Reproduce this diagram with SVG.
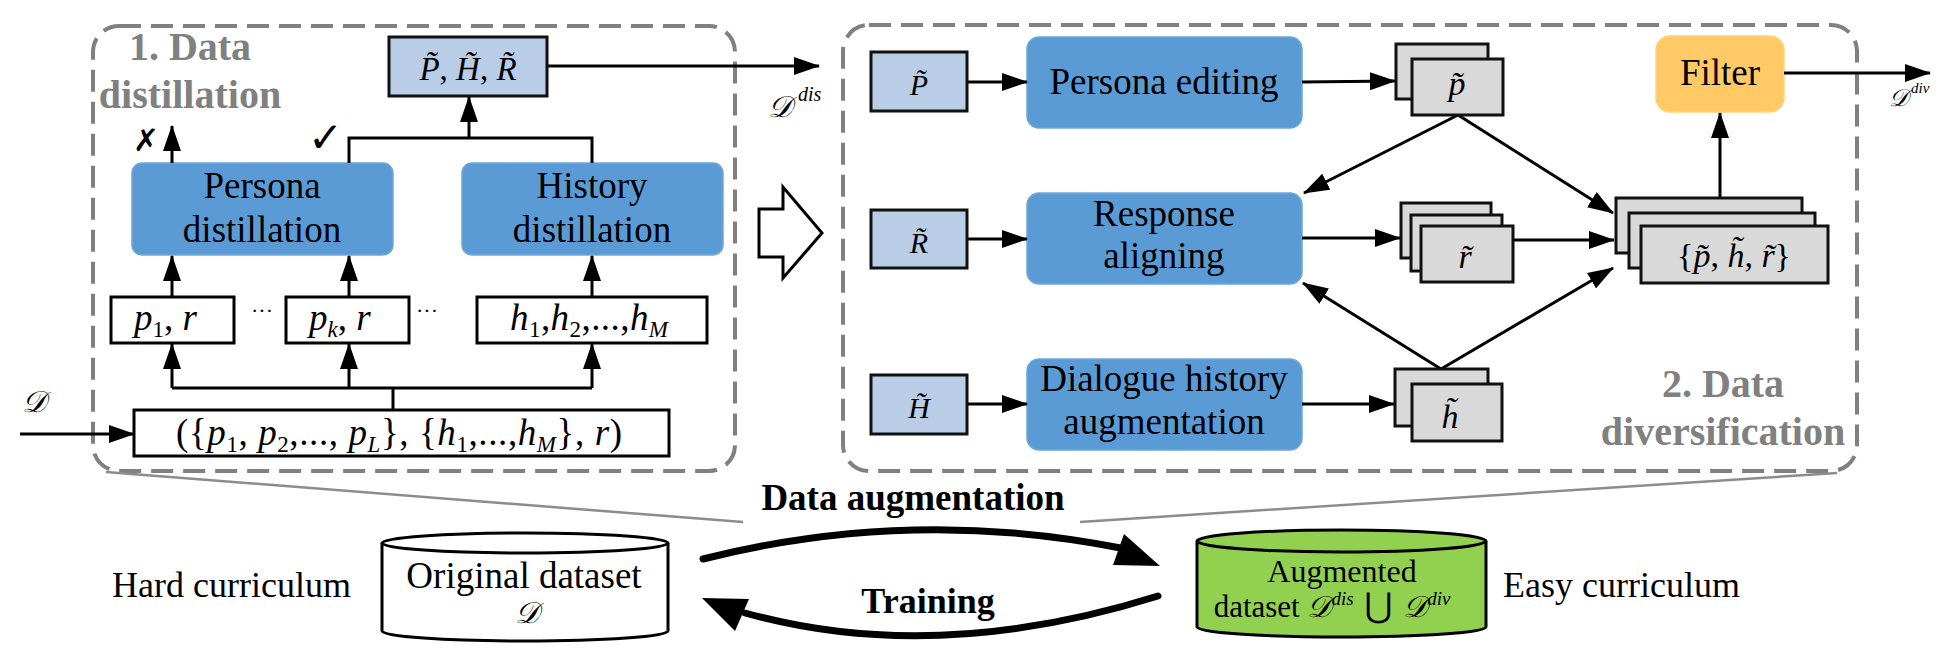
<svg xmlns="http://www.w3.org/2000/svg" width="1952" height="666" viewBox="0 0 1952 666">
<defs>
<style>
.vx-i{font-style:italic}
.vx-sec{font-weight:bold;fill:#808080;font-size:40px}
.vx-dash{fill:none;stroke:#808080;stroke-width:4;stroke-dasharray:22 10}
.vx-blue{fill:#5B9BD5;stroke:#6FA6DA;stroke-width:1.5}
.vx-lb{fill:#B9CDE6;stroke:#111;stroke-width:3}
.vx-gr{fill:#D9D9D9;stroke:#111;stroke-width:3}
.vx-wb{fill:#fff;stroke:#000;stroke-width:3}
.vx-ln{fill:none;stroke:#000;stroke-width:3}
.vx-ar{fill:none;stroke:#000;stroke-width:3;marker-end:url(#ah)}
</style>
<marker id="ah" markerUnits="userSpaceOnUse" markerWidth="26" markerHeight="18" refX="25" refY="9" orient="auto">
<path d="M0,0 L26,9 L0,18 Z" fill="#000"/>
</marker>
</defs>

<g id="node-persona-distillation">
<rect class="vx-blue" x="132" y="163" width="261" height="92" rx="10"/>
<text font-family="Times New Roman" x="262" y="198" font-size="37" text-anchor="middle">Persona</text>
<text font-family="Times New Roman" x="262" y="242" font-size="37" text-anchor="middle">distillation</text>
</g>
<g id="node-history-distillation">
<rect class="vx-blue" x="462" y="163" width="261" height="92" rx="10"/>
<text font-family="Times New Roman" x="592" y="198" font-size="37" text-anchor="middle">History</text>
<text font-family="Times New Roman" x="592" y="242" font-size="37" text-anchor="middle">distillation</text>
</g>
<g id="node-persona-editing">
<rect class="vx-blue" x="1027" y="37" width="275" height="91" rx="12"/>
<text font-family="Times New Roman" x="1164" y="94" font-size="37" text-anchor="middle">Persona editing</text>
</g>
<g id="node-response-aligning">
<rect class="vx-blue" x="1027" y="193" width="275" height="91" rx="12"/>
<text font-family="Times New Roman" x="1164" y="226" font-size="37" text-anchor="middle">Response</text>
<text font-family="Times New Roman" x="1164" y="268" font-size="37" text-anchor="middle">aligning</text>
</g>
<g id="node-dialogue-history">
<rect class="vx-blue" x="1027" y="359" width="275" height="91" rx="12"/>
<text font-family="Times New Roman" x="1164" y="391" font-size="37" text-anchor="middle">Dialogue history</text>
<text font-family="Times New Roman" x="1164" y="434" font-size="37" text-anchor="middle">augmentation</text>
</g>
<g id="node-filter">
<rect x="1656" y="36" width="128" height="76" rx="14" fill="#FFCA66" stroke="#FFD37F" stroke-width="1.5"/>
<text font-family="Times New Roman" x="1720" y="85" font-size="37" text-anchor="middle">Filter</text>
</g>

<g id="frames">
<rect class="vx-dash" x="93" y="26" width="642" height="445" rx="26"/>
<rect class="vx-dash" x="843" y="25" width="1014" height="446" rx="26"/>
<text font-family="Liberation Serif" class="vx-sec" x="190" y="60" text-anchor="middle">1. Data</text>
<text font-family="Liberation Serif" class="vx-sec" x="190" y="108" text-anchor="middle">distillation</text>
<text font-family="Liberation Serif" class="vx-sec" x="1723" y="397" text-anchor="middle">2. Data</text>
<text font-family="Liberation Serif" class="vx-sec" x="1723" y="445" text-anchor="middle">diversification</text>
</g>

<g id="connectors">
<line class="vx-ar" x1="20" y1="434" x2="134" y2="434"/>
<path class="vx-ln" d="M393,410 V388 M172,388 H592"/>
<line class="vx-ar" x1="172" y1="388" x2="172" y2="344"/>
<line class="vx-ar" x1="349" y1="388" x2="349" y2="344"/>
<line class="vx-ar" x1="592" y1="388" x2="592" y2="344"/>
<line class="vx-ar" x1="172" y1="297" x2="172" y2="256"/>
<line class="vx-ar" x1="349" y1="297" x2="349" y2="256"/>
<line class="vx-ar" x1="592" y1="297" x2="592" y2="256"/>
<line class="vx-ar" x1="172" y1="163" x2="172" y2="126"/>
<path class="vx-ln" d="M349,163 V138 H592 V163"/>
<line class="vx-ar" x1="469" y1="138" x2="469" y2="97"/>
<line class="vx-ar" x1="547" y1="66" x2="819" y2="66"/>
<polygon points="759,209 783,209 783,187 822,233 783,278 783,257 759,257" fill="#fff" stroke="#000" stroke-width="3"/>

<line class="vx-ar" x1="967" y1="82" x2="1027" y2="82"/>
<line class="vx-ar" x1="967" y1="239" x2="1027" y2="239"/>
<line class="vx-ar" x1="967" y1="404" x2="1027" y2="404"/>
<line class="vx-ar" x1="1302" y1="82" x2="1395" y2="81"/>
<line class="vx-ar" x1="1302" y1="238" x2="1400" y2="238"/>
<line class="vx-ar" x1="1302" y1="404" x2="1394" y2="404"/>
<line class="vx-ar" x1="1513" y1="240" x2="1614" y2="240"/>
<line class="vx-ar" x1="1458" y1="115" x2="1304" y2="193"/>
<line class="vx-ar" x1="1458" y1="115" x2="1613" y2="213"/>
<line class="vx-ar" x1="1441" y1="369" x2="1303" y2="283"/>
<line class="vx-ar" x1="1441" y1="369" x2="1613" y2="268"/>
<line class="vx-ar" x1="1720" y1="198" x2="1720" y2="113"/>
<line class="vx-ar" x1="1784" y1="73" x2="1930" y2="73"/>

<line x1="106" y1="472" x2="743" y2="522" stroke="#8C8C8C" stroke-width="2.5"/>
<line x1="1837" y1="473" x2="1080" y2="522" stroke="#8C8C8C" stroke-width="2.5"/>
<path d="M703,559 Q913,506 1126,549" fill="none" stroke="#000" stroke-width="7" stroke-linecap="round"/>
<polygon points="1160,566 1124,534 1113,565" fill="#000"/>
<path d="M1158,596 Q935,666 745,613" fill="none" stroke="#000" stroke-width="7" stroke-linecap="round"/>
<polygon points="702,598 749,599 735,631" fill="#000"/>
</g>

<g id="labels">
<text font-family="Liberation Serif" class="vx-i" x="22" y="412" font-size="30">𝒟</text>
<text font-family="Liberation Serif" class="vx-i" x="768" y="117" font-size="30">𝒟</text>
<text font-family="Liberation Serif" class="vx-i" x="798" y="101" font-size="20">dis</text>
<text font-family="Liberation Serif" class="vx-i" x="1889" y="106" font-size="24">𝒟</text>
<text font-family="Liberation Serif" class="vx-i" x="1911" y="93" font-size="15">div</text>
<text x="133" y="151" font-size="31" font-family="DejaVu Sans" font-weight="bold">✗</text>
<text x="308" y="152" font-size="42" font-family="DejaVu Sans" font-weight="bold">✓</text>
<text font-family="Liberation Serif" x="251" y="318" font-size="22">···</text>
<text font-family="Liberation Serif" x="416" y="318" font-size="22">···</text>
<text font-family="Liberation Serif" x="913" y="510" font-size="37" font-weight="bold" text-anchor="middle">Data augmentation</text>
<text font-family="Liberation Serif" x="928" y="613" font-size="36" font-weight="bold" text-anchor="middle">Training</text>
<text font-family="Times New Roman" x="112" y="597" font-size="36">Hard curriculum</text>
<text font-family="Times New Roman" x="1503" y="597" font-size="36">Easy curriculum</text>
</g>

<g id="node-input">
<rect class="vx-wb" x="134" y="410" width="535" height="46"/>
<text font-family="Liberation Serif" x="176" y="445" font-size="37" textLength="446" lengthAdjust="spacing">({<tspan class="vx-i">p</tspan><tspan font-size="23" dy="7">1</tspan><tspan dy="-7">, </tspan><tspan class="vx-i">p</tspan><tspan font-size="23" dy="7">2</tspan><tspan dy="-7">,..., </tspan><tspan class="vx-i">p</tspan><tspan class="vx-i" font-size="23" dy="7">L</tspan><tspan dy="-7">}, {</tspan><tspan class="vx-i">h</tspan><tspan font-size="23" dy="7">1</tspan><tspan dy="-7">,...,</tspan><tspan class="vx-i">h</tspan><tspan class="vx-i" font-size="23" dy="7">M</tspan><tspan dy="-7">}, </tspan><tspan class="vx-i">r</tspan>)</text>
</g>
<g id="node-p1r">
<rect class="vx-wb" x="111" y="297" width="123" height="46"/>
<text font-family="Liberation Serif" x="134" y="330" font-size="37"><tspan class="vx-i">p</tspan><tspan font-size="23" dy="7">1</tspan><tspan dy="-7">, </tspan><tspan class="vx-i">r</tspan></text>
</g>
<g id="node-pkr">
<rect class="vx-wb" x="286" y="297" width="123" height="46"/>
<text font-family="Liberation Serif" x="309" y="330" font-size="37"><tspan class="vx-i">p</tspan><tspan class="vx-i" font-size="23" dy="7">k</tspan><tspan dy="-7">, </tspan><tspan class="vx-i">r</tspan></text>
</g>
<g id="node-hist">
<rect class="vx-wb" x="477" y="297" width="230" height="46"/>
<text font-family="Liberation Serif" x="510" y="330" font-size="37" textLength="158" lengthAdjust="spacing"><tspan class="vx-i">h</tspan><tspan font-size="23" dy="7">1</tspan><tspan dy="-7">,</tspan><tspan class="vx-i">h</tspan><tspan font-size="23" dy="7">2</tspan><tspan dy="-7">,...,</tspan><tspan class="vx-i">h</tspan><tspan class="vx-i" font-size="23" dy="7">M</tspan></text>
</g>
<g id="node-PHR">
<rect class="vx-lb" x="389" y="37" width="158" height="59"/>
<text font-family="Liberation Serif" x="468" y="80" font-size="33" text-anchor="middle"><tspan class="vx-i">P̃</tspan>, <tspan class="vx-i">H̃</tspan>, <tspan class="vx-i">R̃</tspan></text>
</g>

<g id="node-P">
<rect class="vx-lb" x="871" y="52" width="96" height="59"/>
<text font-family="Liberation Serif" class="vx-i" x="919" y="95" font-size="30" text-anchor="middle">P̃</text>
</g>
<g id="node-R">
<rect class="vx-lb" x="871" y="210" width="96" height="58"/>
<text font-family="Liberation Serif" class="vx-i" x="919" y="253" font-size="30" text-anchor="middle">R̃</text>
</g>
<g id="node-H">
<rect class="vx-lb" x="871" y="375" width="96" height="59"/>
<text font-family="Liberation Serif" class="vx-i" x="919" y="418" font-size="30" text-anchor="middle">H̃</text>
</g>
<g id="node-p-stack">
<rect class="vx-gr" x="1396" y="44" width="92" height="55"/>
<rect class="vx-gr" x="1412" y="59" width="91" height="56"/>
<text font-family="Liberation Serif" class="vx-i" x="1457" y="95" font-size="34" text-anchor="middle">p̃</text>
</g>
<g id="node-r-stack">
<rect class="vx-gr" x="1401" y="203" width="90" height="55"/>
<rect class="vx-gr" x="1411" y="215" width="91" height="56"/>
<rect class="vx-gr" x="1421" y="226" width="92" height="56"/>
<text font-family="Liberation Serif" class="vx-i" x="1465" y="268" font-size="34" text-anchor="middle">r̃</text>
</g>
<g id="node-h-stack">
<rect class="vx-gr" x="1395" y="369" width="93" height="57"/>
<rect class="vx-gr" x="1412" y="384" width="90" height="57"/>
<text font-family="Liberation Serif" class="vx-i" x="1450" y="428" font-size="34" text-anchor="middle">h̃</text>
</g>
<g id="node-set-stack">
<rect class="vx-gr" x="1616" y="198" width="186" height="55"/>
<rect class="vx-gr" x="1629" y="213" width="186" height="55"/>
<rect class="vx-gr" x="1641" y="226" width="187" height="57"/>
<text font-family="Liberation Serif" x="1734" y="267" font-size="34" text-anchor="middle">{<tspan class="vx-i">p̃</tspan>,  <tspan class="vx-i">h̃</tspan>,  <tspan class="vx-i">r̃</tspan>}</text>
</g>

<g id="node-original-dataset">
<path d="M382,543 V631 A143,10 0 0 0 668,631 V543" fill="#fff" stroke="#000" stroke-width="3"/>
<ellipse cx="525" cy="543" rx="143" ry="10" fill="#fff" stroke="#000" stroke-width="3"/>
<text font-family="Times New Roman" x="524" y="588" font-size="37" text-anchor="middle">Original dataset</text>
<text font-family="Liberation Serif" class="vx-i" x="527" y="623" font-size="30" text-anchor="middle">𝒟</text>
</g>
<g id="node-augmented-dataset">
<path d="M1197,541 V627 A144.5,10 0 0 0 1486,627 V541" fill="#92D050" stroke="#000" stroke-width="3"/>
<ellipse cx="1341.5" cy="541" rx="144.5" ry="11" fill="#92D050" stroke="#000" stroke-width="3"/>
<text font-family="Times New Roman" x="1342" y="582" font-size="32" text-anchor="middle">Augmented</text>
<text font-family="Times New Roman" x="1332" y="617" font-size="31" text-anchor="middle">dataset <tspan class="vx-i" font-size="30" font-family="Liberation Serif">𝒟</tspan><tspan class="vx-i" font-size="19" dy="-12">dis</tspan><tspan dy="12" font-size="34" font-family="DejaVu Sans"> ⋃ </tspan><tspan class="vx-i" font-size="30" font-family="Liberation Serif">𝒟</tspan><tspan class="vx-i" font-size="19" dy="-12">div</tspan></text>
</g>
</svg>
